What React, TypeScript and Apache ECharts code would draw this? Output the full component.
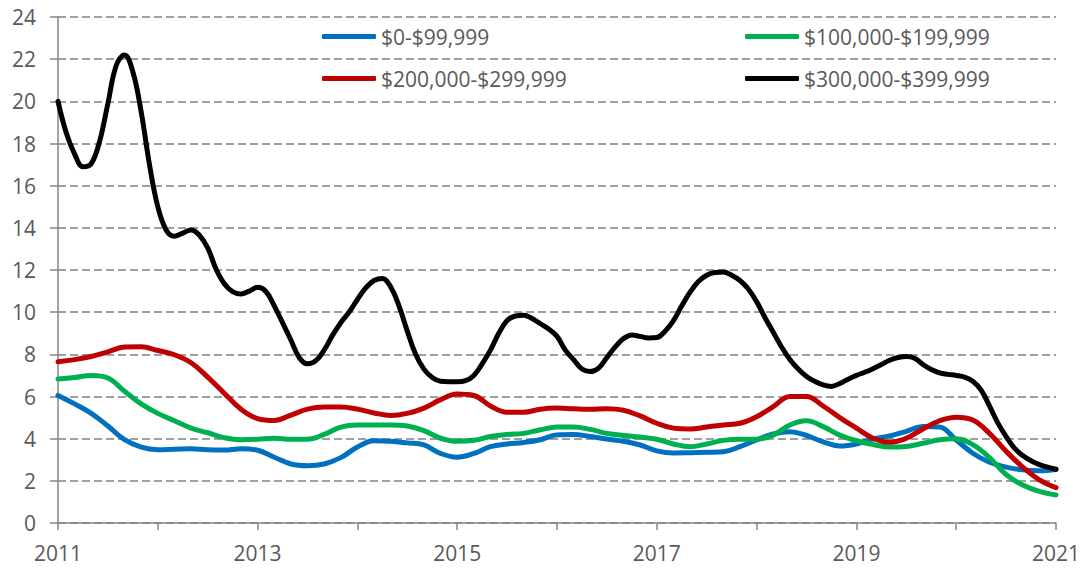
import React, { useEffect, useRef } from "react";
import * as echarts from "echarts";

const START_YEAR = 2011;
const END_YEAR = 2021;

const SERIES_NAMES = [
  "$0-$99,999",
  "$100,000-$199,999",
  "$200,000-$299,999",
  "$300,000-$399,999",
];
const SERIES_COLORS = ["#0070C0", "#00B050", "#C00000", "#000000"];

// bi-monthly values (every 2 months from Jan 2011 to Jan 2021)
const BLUE = [
  6.05, 5.65, 5.2, 4.6, 3.95, 3.6,
  3.48, 3.5, 3.52, 3.47, 3.46, 3.52,
  3.45, 3.12, 2.8, 2.72, 2.8, 3.1,
  3.6, 3.9, 3.88, 3.8, 3.7, 3.3,
  3.12, 3.3, 3.62, 3.75, 3.82, 3.95,
  4.18, 4.2, 4.1, 3.98, 3.88, 3.7,
  3.42, 3.32, 3.33, 3.35, 3.38, 3.62,
  3.94, 4.22, 4.33, 4.15, 3.85, 3.65,
  3.75, 3.98, 4.13, 4.35, 4.58, 4.55,
  3.94, 3.31, 2.88, 2.65, 2.52, 2.48,
  2.54,
];
const GREEN = [
  6.83, 6.9, 7.0, 6.88, 6.25, 5.65,
  5.2, 4.85, 4.5, 4.28, 4.05, 3.95,
  3.97, 4.02, 3.97, 3.97, 4.2, 4.55,
  4.65, 4.65, 4.65, 4.6, 4.38, 4.02,
  3.88, 3.92, 4.1, 4.2, 4.25, 4.42,
  4.55, 4.55, 4.44, 4.25, 4.15, 4.08,
  3.97, 3.75, 3.62, 3.75, 3.92, 3.97,
  3.97, 4.17, 4.65, 4.85, 4.57, 4.17,
  3.9, 3.72, 3.6, 3.63, 3.78, 3.95,
  4.0, 3.72, 3.1, 2.3, 1.8, 1.5,
  1.33,
];
const RED = [
  7.65, 7.75, 7.9, 8.12, 8.35, 8.36,
  8.18, 7.98, 7.6, 6.92, 6.15, 5.4,
  4.95, 4.86, 5.12, 5.4, 5.5, 5.5,
  5.4, 5.22, 5.1, 5.2, 5.45, 5.85,
  6.12, 6.05, 5.55, 5.25, 5.25, 5.4,
  5.45, 5.42, 5.4, 5.42, 5.35, 5.08,
  4.73, 4.5, 4.46, 4.55, 4.65, 4.73,
  5.04, 5.52, 6.0, 6.0, 5.55, 5.0,
  4.5, 4.02, 3.83, 4.02, 4.46, 4.85,
  5.02, 4.88, 4.25, 3.4, 2.65, 2.05,
  1.68,
];
// monthly values (Jan 2011 to Jan 2021)
const BLACK = [
  20.0, 18.5, 17.5, 16.9, 17.05, 18.1, 19.9, 21.7, 22.2, 21.4, 19.5, 17.0,
  15.0, 13.9, 13.6, 13.75, 13.9, 13.65, 13.05, 12.05, 11.35, 10.97, 10.86, 11.0,
  11.18, 10.98, 10.3, 9.5, 8.68, 7.85, 7.55, 7.7, 8.2, 8.9, 9.5, 10.0,
  10.6, 11.15, 11.5, 11.6, 11.2, 10.3, 9.1, 8.0, 7.3, 6.9, 6.72, 6.7,
  6.7, 6.75, 7.0, 7.55, 8.2, 9.0, 9.6, 9.82, 9.85, 9.7, 9.45, 9.2,
  8.85, 8.2, 7.75, 7.3, 7.18, 7.35, 7.85, 8.35, 8.75, 8.92, 8.85, 8.78,
  8.8, 9.1, 9.6, 10.3, 10.95, 11.45, 11.75, 11.88, 11.9, 11.75, 11.5, 11.1,
  10.5, 9.75, 9.05, 8.35, 7.75, 7.3, 6.95, 6.72, 6.55, 6.48, 6.62, 6.82,
  7.0, 7.15, 7.32, 7.52, 7.72, 7.85, 7.9, 7.82, 7.52, 7.28, 7.12, 7.05,
  7.0, 6.92, 6.72, 6.3, 5.55, 4.75, 4.1, 3.55, 3.2, 2.95, 2.77, 2.65,
  2.55,
];

const SERIES_VALUES = [BLUE, GREEN, RED, BLACK];

const Y_MIN = 0;
const Y_MAX = 24;
const Y_STEP = 2;

const FONT = "'Open Sans', 'Noto Sans', sans-serif";
const TEXT_COLOR = "#595959";
const AXIS_COLOR = "#868686";
const GRID_COLOR = "#808080";

function toPairs(values: number[]): [number, number][] {
  const step = (END_YEAR - START_YEAR) / (values.length - 1);
  return values.map((v, i) => [START_YEAR + i * step, v]);
}

const LEGEND_POS = [
  { left: 322, top: 26 },
  { left: 745, top: 26 },
  { left: 322, top: 68 },
  { left: 745, top: 68 },
];

export default function App() {
  const ref = useRef<HTMLDivElement>(null);

  useEffect(() => {
    if (!ref.current) return;
    const chart = echarts.init(ref.current, undefined, { renderer: "svg" });

    const option: any = {
      animation: false,
      backgroundColor: "#ffffff",
      grid: { left: 58, right: 30, top: 17, bottom: 45, containLabel: false },
      legend: SERIES_NAMES.map((name, i) => ({
        data: [name],
        left: LEGEND_POS[i].left,
        top: LEGEND_POS[i].top,
        padding: 0,
        icon: "roundRect",
        itemWidth: 54,
        itemHeight: 5,
        selectedMode: false,
        textStyle: { color: TEXT_COLOR, fontSize: 21, fontFamily: FONT },
      })),
      xAxis: {
        type: "value",
        min: START_YEAR,
        max: END_YEAR,
        interval: 1,
        axisLine: { show: true, lineStyle: { color: AXIS_COLOR, width: 1.5 } },
        axisTick: { show: true, length: 7, lineStyle: { color: AXIS_COLOR, width: 1.5 } },
        splitLine: { show: false },
        axisLabel: {
          color: TEXT_COLOR,
          fontSize: 21,
          fontFamily: FONT,
          margin: 19,
          showMinLabel: true,
          showMaxLabel: true,
          formatter: (v: number) => ((v - START_YEAR) % 2 === 0 ? String(v) : ""),
        },
      },
      yAxis: {
        type: "value",
        min: Y_MIN,
        max: Y_MAX,
        interval: Y_STEP,
        axisLine: { show: true, lineStyle: { color: AXIS_COLOR, width: 1.5 } },
        axisTick: { show: true, length: 8, lineStyle: { color: AXIS_COLOR, width: 1.5 } },
        splitLine: {
          show: true,
          lineStyle: { color: GRID_COLOR, width: 1.6, type: [8, 4] },
        },
        axisLabel: {
          color: TEXT_COLOR,
          fontSize: 21,
          fontFamily: FONT,
          margin: 22,
        },
      },
      series: SERIES_NAMES.map((name, i) => ({
        name,
        type: "line",
        data: toPairs(SERIES_VALUES[i]),
        smooth: 0.4,
        showSymbol: false,
        symbol: "none",
        lineStyle: { color: SERIES_COLORS[i], width: 5, cap: "round", join: "round" },
        itemStyle: { color: SERIES_COLORS[i] },
        z: 2 + i,
      })),
    };

    chart.setOption(option);
    return () => chart.dispose();
  }, []);

  return (
    <div
      ref={ref}
      style={{ position: "absolute", left: 0, top: 0, width: 1086, height: 568 }}
    />
  );
}
